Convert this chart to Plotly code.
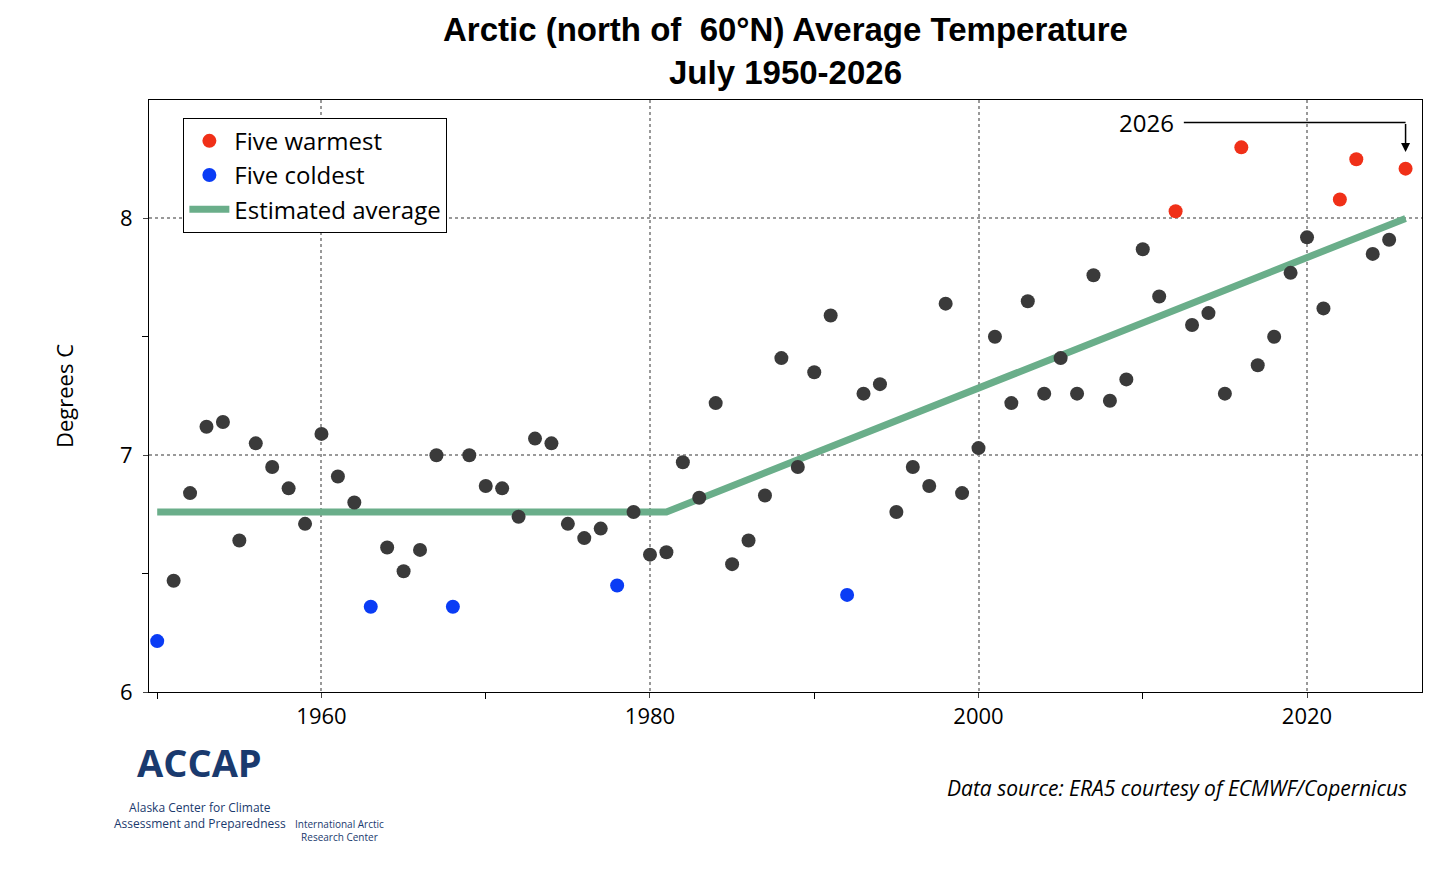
import plotly.graph_objects as go

years = list(range(1950, 2027))
temps = [6.215, 6.47, 6.84, 7.12, 7.14, 6.64, 7.05, 6.95, 6.86, 6.71,
         7.09, 6.91, 6.80, 6.36, 6.61, 6.51, 6.60, 7.00, 6.36, 7.00,
         6.87, 6.86, 6.74, 7.07, 7.05, 6.71, 6.65, 6.69, 6.45, 6.76,
         6.58, 6.59, 6.97, 6.82, 7.22, 6.54, 6.64, 6.83, 7.41, 6.95,
         7.35, 7.59, 6.41, 7.26, 7.30, 6.76, 6.95, 6.87, 7.64, 6.84,
         7.03, 7.50, 7.22, 7.65, 7.26, 7.41, 7.26, 7.76, 7.23, 7.32,
         7.87, 7.67, 8.03, 7.55, 7.60, 7.26, 8.30, 7.38, 7.50, 7.77,
         7.92, 7.62, 8.08, 8.25, 7.85, 7.91, 8.21]
warm_years = [2012, 2016, 2022, 2023, 2026]
cold_years = [1950, 1963, 1968, 1978, 1992]
trend_x = [1950, 1981, 2026]
trend_y = [6.76, 6.76, 8.00]

lookup = dict(zip(years, temps))
other = [y for y in years if y not in warm_years + cold_years]

fig = go.Figure()
fig.add_trace(go.Scatter(x=trend_x, y=trend_y, mode="lines", line=dict(color="#6aae8a", width=7),
                         name="Estimated average", showlegend=False))
fig.add_trace(go.Scatter(x=other, y=[lookup[y] for y in other], mode="markers",
                         marker=dict(color="#3a3a3a", size=14), showlegend=False))
fig.add_trace(go.Scatter(x=warm_years, y=[lookup[y] for y in warm_years], mode="markers",
                         marker=dict(color="#f03018", size=14), name="Five warmest"))
fig.add_trace(go.Scatter(x=cold_years, y=[lookup[y] for y in cold_years], mode="markers",
                         marker=dict(color="#0a3cf5", size=14), name="Five coldest"))
fig.add_trace(go.Scatter(x=[None], y=[None], mode="lines", line=dict(color="#6aae8a", width=7),
                         name="Estimated average"))

# 2026 callout
fig.add_shape(type="line", x0=2012.5, x1=2026, y0=8.405, y1=8.405, line=dict(color="black", width=1.5))
fig.add_annotation(x=2026, y=8.28, ax=2026, ay=8.405, xref="x", yref="y", axref="x", ayref="y",
                   text="", showarrow=True, arrowhead=2, arrowwidth=1.5, arrowsize=1.2, arrowcolor="black")
fig.add_annotation(x=2012, y=8.405, text="2026", showarrow=False, xanchor="right",
                   font=dict(size=24, color="black"))

fig.add_annotation(xref="paper", yref="paper", x=0.5, y=1.082, yanchor="middle", showarrow=False,
                   text="<b>Arctic (north of  60°N) Average Temperature<br>July 1950-2026</b>",
                   font=dict(size=33, family="Liberation Sans", color="black"))
fig.add_annotation(xref="paper", yref="paper", x=0.99, y=-0.19, text="<i>Data source: ERA5 courtesy of ECMWF/Copernicus</i>",
                   showarrow=False, xanchor="right", font=dict(size=21, color="black"))
fig.add_annotation(xref="paper", yref="paper", x=0.04, y=-0.165, text="<b>ACCAP</b>", showarrow=False,
                   xanchor="center", font=dict(size=38, color="#1a3a6e"))
fig.add_annotation(xref="paper", yref="paper", x=0.04, y=-0.24, showarrow=False, xanchor="center",
                   text="Alaska Center for Climate<br>Assessment and Preparedness",
                   font=dict(size=12, color="#1a3a6e"))
fig.add_annotation(xref="paper", yref="paper", x=0.15, y=-0.26, showarrow=False, xanchor="center",
                   text="International Arctic<br>Research Center", font=dict(size=10, color="#1a3a6e"))

fig.update_layout(
    width=1456, height=874, plot_bgcolor="white", paper_bgcolor="white",
    margin=dict(l=141, r=42, t=92, b=190, autoexpand=False),
    font=dict(family="Open Sans, DejaVu Sans", color="black"),
    legend=dict(x=0.027, y=0.97, xanchor="left", yanchor="top", bordercolor="black", borderwidth=1,
                font=dict(size=24), bgcolor="white", itemwidth=40, tracegroupgap=2),
    xaxis=dict(range=[1949.5, 2027], tickvals=[1960, 1980, 2000, 2020], showgrid=True,
               gridcolor="#999", griddash="dot", gridwidth=2, showline=True, linecolor="black", mirror=True,
               ticks="outside", tickfont=dict(size=22), zeroline=False,
               minor=dict(tickvals=[1950, 1970, 1990, 2010], ticks="outside", ticklen=6, tickcolor="black")),
    yaxis=dict(range=[6, 8.5], tickvals=[6, 7, 8], showgrid=True, gridcolor="#999", griddash="dot",
               gridwidth=2, showline=True, linecolor="black", mirror=True, ticks="outside",
               ticklabelstandoff=6, tickfont=dict(size=22), zeroline=False,
               title=dict(text="Degrees C", font=dict(size=22), standoff=40),
               minor=dict(tickvals=[6.5, 7.5], ticks="outside", ticklen=6, tickcolor="black")),
)
fig.write_html("out.html")
